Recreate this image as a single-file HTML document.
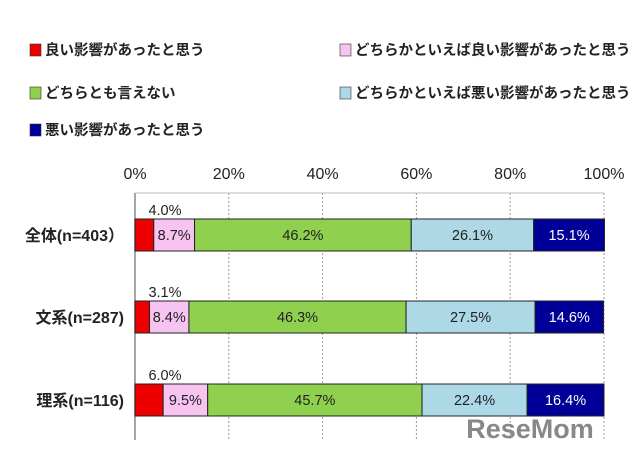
<!DOCTYPE html>
<html><head><meta charset="utf-8"><style>
body{margin:0;background:#fff;width:640px;height:451px;overflow:hidden;font-family:"Liberation Sans","Noto Sans CJK JP",sans-serif}
svg text{font-family:"Liberation Sans","Noto Sans CJK JP",sans-serif}
</style></head><body>
<svg id="c" width="640" height="451"></svg>
<script>
const categories=["全体(n=403）","文系(n=287)","理系(n=116)"];
const seriesNames=["良い影響があったと思う","どちらかといえば良い影響があったと思う","どちらとも言えない","どちらかといえば悪い影響があったと思う","悪い影響があったと思う"];
const s1=[4.0,3.1,6.0];
const s2=[8.7,8.4,9.5];
const s3=[46.2,46.3,45.7];
const s4=[26.1,27.5,22.4];
const s5=[15.1,14.6,16.4];
const ticks=[0,20,40,60,80,100];
const colors=["#ee0000","#f7c4f2","#8fd14f","#add8e6","#000099"];
const series=[s1,s2,s3,s4,s5];
const NS="http://www.w3.org/2000/svg";
const svg=document.getElementById('c');
const X0=135,X1=604,plotTop=193,plotBottom=440;
const x=v=>X0+(X1-X0)*v/100;
const barY=[219,301,384],barH=32;
function el(t,a,p){const e=document.createElementNS(NS,t);for(const k in a)e.setAttribute(k,a[k]);(p||svg).appendChild(e);return e;}
const legPos=[[30,50],[340,50],[30,93],[340,93],[30,130]];
seriesNames.forEach((n,i)=>{
 const g=el('g',{});
 
 
 el('rect',{x:legPos[i][0],y:legPos[i][1]-6,width:11,height:12,fill:colors[i],stroke:'#333','stroke-width':0.6},g);
 const t=el('text',{x:legPos[i][0]+15,y:legPos[i][1]+5,'font-size':14.5,'font-weight':'bold',fill:'#222'},g);t.textContent=n;
});
ticks.forEach(v=>{
 if(v>0){const l=el('line',{x1:x(v),x2:x(v),y1:plotTop,y2:plotBottom,stroke:'#999','stroke-dasharray':'2,2'});
 
 }
 const t=el('text',{x:x(v),y:179,'font-size':16,'text-anchor':'middle',fill:'#222'});
 
 
 t.textContent=v+'%';
});
el('line',{x1:X0,x2:X0,y1:plotTop,y2:plotBottom,stroke:'#888','stroke-width':1.5});
el('line',{x1:X0,x2:X1,y1:plotTop,y2:plotTop,stroke:'#bbb'});
categories.forEach((c,ci)=>{
 const y=barY[ci];
 const t=el('text',{x:124,y:y+barH/2+6,'font-size':16,'font-weight':'bold','text-anchor':'end',fill:'#222'});
 
 
 t.textContent=c;
 let acc=0;
 series.forEach((s,si)=>{
  const v=s[ci];
  const r=el('rect',{x:x(acc),y:y,width:x(acc+v)-x(acc),height:barH,fill:colors[si],stroke:'#222','stroke-width':1});
  
  
  const lbl=el('text',{'font-size':14.5,'text-anchor':'middle',fill:si==4?'#fff':'#222'});
  
  
  lbl.textContent=v.toFixed(1)+'%';
  if(si==0){lbl.setAttribute('x',x(acc)+30);lbl.setAttribute('y',y-4);}
  else{lbl.setAttribute('x',(x(acc)+x(acc+v))/2);lbl.setAttribute('y',y+barH/2+5);}
  acc+=v;
 });
});
const wm=el('text',{x:530,y:438,'font-size':27,'font-weight':'bold',fill:'#888','text-anchor':'middle'});


wm.textContent='ReseMom';
</script>
</body></html>
